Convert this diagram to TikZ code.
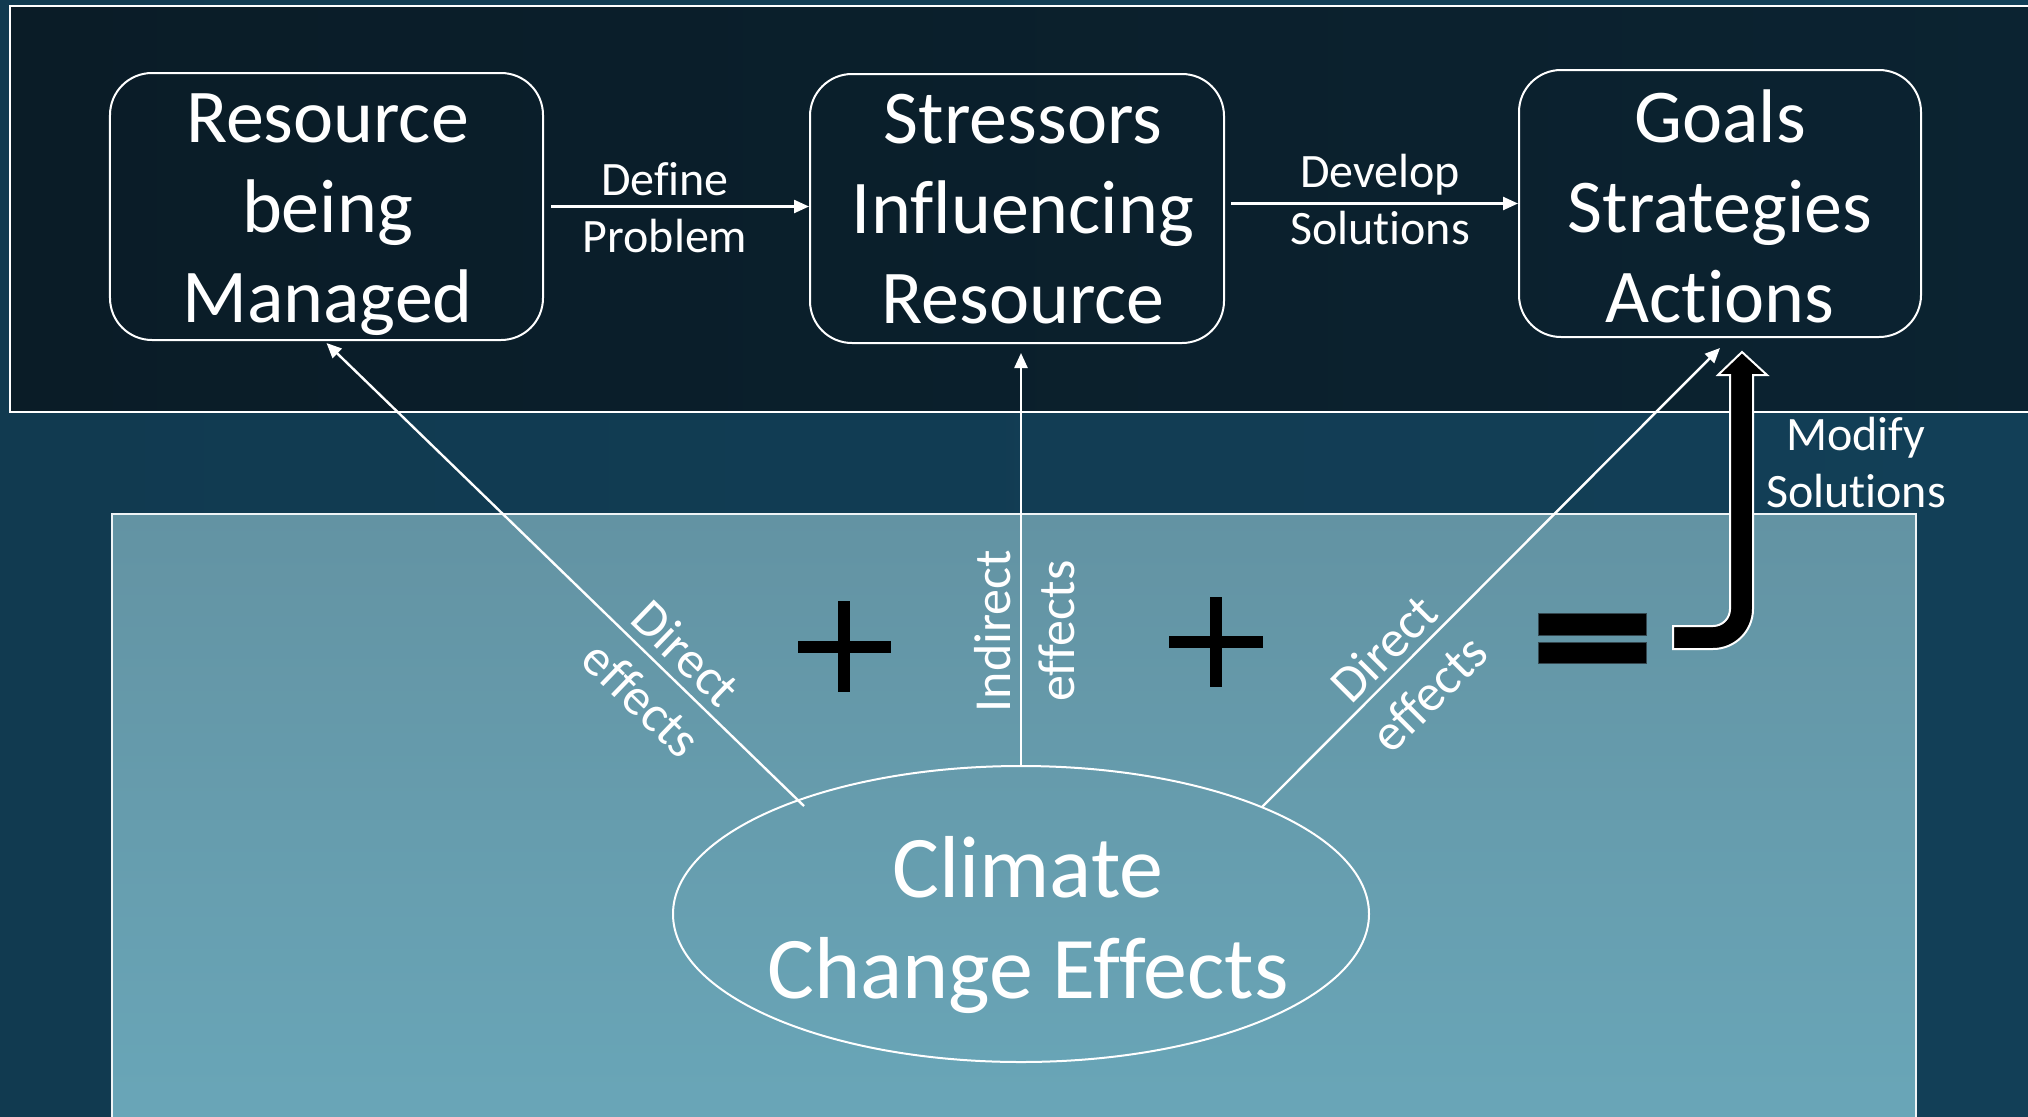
\documentclass[tikz,border=0pt]{standalone}
\usepackage{fontspec}
\setmainfont{Carlito}[Ligatures=CommonOff]
\usetikzlibrary{arrows.meta,shapes.geometric}
\definecolor{bgL}{HTML}{113A50}
\definecolor{bgM}{HTML}{144763}
\definecolor{bgR}{HTML}{123F57}
\definecolor{panelL}{HTML}{0A1C27}
\definecolor{panelR}{HTML}{0B2331}
\definecolor{lowT}{HTML}{6393A3}
\definecolor{lowB}{HTML}{69A6B8}
\definecolor{barline}{HTML}{34474F}
\begin{document}
\begin{tikzpicture}[x=1bp,y=-1bp,
  box/.style={draw=white, line width=2bp, rounded corners=42bp, inner sep=0pt},
  boxtext/.style={text=white, align=center, anchor=base,
    font=\fontsize{76bp}{90bp}\selectfont},
  lbl/.style={text=white, align=center, anchor=base,
    font=\fontsize{48bp}{57bp}\selectfont},
  rlbl/.style={text=white, align=center, inner sep=0pt,
    font=\fontsize{52bp}{64bp}\selectfont},
  conn/.style={draw=white, line width=2.4bp, -{Triangle[length=15bp,width=13bp]}},
  signbar/.style={fill=black},
  eqbar/.style={fill=black, draw=barline, line width=1bp},
  bigarrow/.style={fill=black, draw=white, line width=2bp, line join=miter}]
\useasboundingbox (0,0) rectangle (2028,1116);
\clip (0,0) rectangle (2028,1116);

% backdrop
\shade[left color=bgL, middle color=bgM, right color=bgR] (0,0) rectangle (2028,1116);

% upper panel
\shadedraw[left color=panelL, right color=panelR, draw=white, line width=2.5bp]
  (10,6) rectangle (2060,412);

% lower panel
\shadedraw[top color=lowT, bottom color=lowB, draw=white!90!lowT, line width=2bp]
  (112,514) rectangle (1916,1125);

% boxes of the upper row
\node[box, minimum width=433bp, minimum height=267bp] (b1) at (326.5,206.5) {};
\node[box, minimum width=414bp, minimum height=269bp] (b2) at (1017,208.5) {};
\node[box, minimum width=402bp, minimum height=267bp] (b3) at (1720,203.5) {};

% multi-line texts are anchored at the baseline of their last line
\node[boxtext] (t1) at (327.5,322) {Resource\\being\\Managed};
\node[boxtext] (t2) at (1023,323) {Stressors\\Influencing\\Resource};
\node[boxtext] (t3) at (1720,322) {Goals\\Strategies\\Actions};

% climate ellipse
\node[draw=white, line width=2bp, ellipse, minimum width=696bp, minimum height=296bp,
  inner sep=0pt] (cc) at (1021,914) {};
\node[text=white, align=center, anchor=base,
  font=\fontsize{88bp}{101bp}\selectfont] (cct) at (1028,998) {Climate\\Change Effects};

% connectors
\draw[conn] ([xshift=7bp]b1.east) -- (b1.east -| b2.west);
\node[lbl] (l1) at (665,252) {Define\\Problem};
\draw[conn] ([xshift=6bp]b2.east |- b3.west) -- (b3.west);
\node[lbl] (l2) at (1380,244) {Develop\\Solutions};

\coordinate (dl) at (804,806);
\coordinate (dr) at (1262,807);
\draw[conn] (dl) -- ([yshift=-2bp]b1.south);
\draw[conn] (cc.north) -- ([yshift=-9bp]cc.north |- b2.south);
\draw[conn] (dr) -- ([yshift=-10bp]b3.south);

\node[rlbl, rotate=-44] (r1) at (664,676) {Direct\\effects};
\node[rlbl, rotate=90] (r2) at (1025,631) {Indirect\\effects};
\node[rlbl, rotate=45] (r3) at (1406,671) {Direct\\effects};

% plus signs
\fill[signbar] (838,601) rectangle (850,692);
\fill[signbar] (798,641) rectangle (891,653);
\fill[signbar] (1210,597) rectangle (1222,687);
\fill[signbar] (1169,636) rectangle (1263,648);

% equals sign
\draw[eqbar] (1538,613) rectangle (1646,635);
\draw[eqbar] (1538,642) rectangle (1646,663);

% bent block arrow
\draw[bigarrow] (1673,626) -- (1713,626)
  .. controls (1722.4,626) and (1730,618.4) .. (1730,609)
  -- (1730,375) -- (1718,375) -- (1742,352) -- (1767,375) -- (1753,375)
  -- (1753,609) .. controls (1753,631.1) and (1735.1,649) .. (1713,649)
  -- (1673,649) -- cycle;
\node[lbl] (l3) at (1856,507) {Modify\\Solutions};
\end{tikzpicture}
\end{document}
